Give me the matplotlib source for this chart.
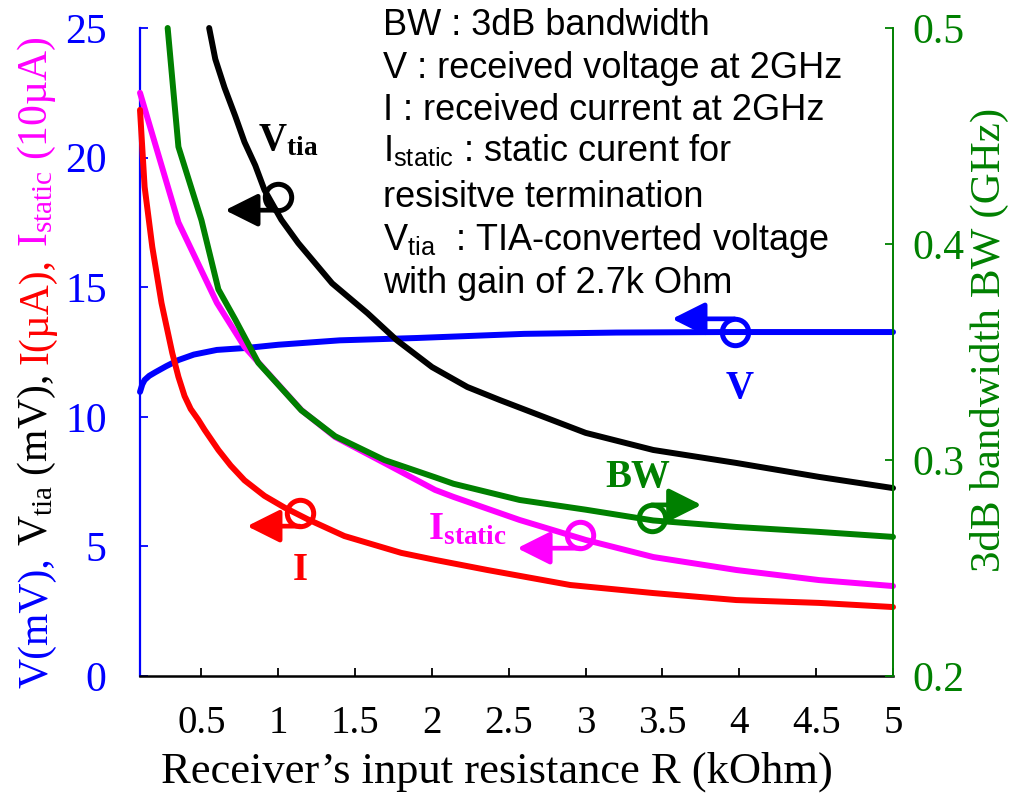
import matplotlib
matplotlib.use("Agg")
import matplotlib.pyplot as plt
from matplotlib.transforms import ScaledTranslation

plt.rcParams["font.family"] = ["Liberation Serif", "DejaVu Serif"]
plt.rcParams["mathtext.fontset"] = "custom"
plt.rcParams["mathtext.rm"] = "Liberation Serif"
plt.rcParams["mathtext.it"] = "Liberation Serif:italic"
plt.rcParams["mathtext.bf"] = "Liberation Serif:bold"
plt.rcParams["mathtext.sf"] = "Liberation Sans"

BLUE = "#0000FF"
RED = "#FF0000"
MAGENTA = "#FF00FF"
GREEN = "#008000"
BLACK = "#000000"

# ---- data: receiver input resistance R (kOhm) ----
r_v = [0.10, 0.115, 0.13, 0.16, 0.20, 0.27, 0.35, 0.45, 0.60, 0.80, 1.00, 1.40, 1.90, 2.60,
       3.20, 3.90, 4.50, 5.00]
v_mv = [10.96, 11.25, 11.42, 11.58, 11.72, 11.95, 12.19, 12.40, 12.58, 12.66, 12.78, 12.95,
        13.04, 13.20, 13.25, 13.27, 13.27, 13.27]

r_tia = [0.55, 0.59, 0.65, 0.72, 0.78, 0.85, 0.91, 1.02, 1.13, 1.35, 1.58, 1.77, 2.00, 2.23,
         2.44, 2.66, 3.00, 3.44, 3.98, 4.52, 5.00]
vtia_mv = [25.0, 23.8, 22.7, 21.6, 20.6, 19.7, 18.75, 17.6, 16.7, 15.15, 14.0, 12.96, 11.92,
           11.15, 10.65, 10.15, 9.38, 8.72, 8.22, 7.68, 7.25]

r_static = [0.10, 0.35, 0.60, 0.78, 0.87, 1.15, 1.37, 1.69, 2.02, 2.14, 2.57, 3.00, 3.44,
            3.98, 4.52, 5.00]
istatic_10ua = [22.5, 17.5, 14.4, 12.7, 12.1, 10.26, 9.22, 8.22, 7.18, 6.91, 6.02, 5.25,
                4.59, 4.09, 3.70, 3.47]

r_i = [0.10, 0.13, 0.18, 0.24, 0.31, 0.35, 0.39, 0.43, 0.48, 0.52, 0.61, 0.69, 0.78, 0.91,
       1.04, 1.19, 1.43, 1.80, 2.02, 2.36, 2.90, 3.44, 3.98, 4.52, 5.00]
i_ua = [21.84, 18.87, 16.55, 14.39, 12.46, 11.54, 10.80, 10.30, 9.88, 9.50, 8.72, 8.12, 7.55,
        6.95, 6.50, 6.05, 5.40, 4.75, 4.48, 4.09, 3.51, 3.20, 2.93, 2.82, 2.66]

r_bw = [0.28, 0.35, 0.50, 0.61, 0.72, 0.87, 1.15, 1.37, 1.69, 2.02, 2.14, 2.57, 3.00, 3.44,
        3.98, 4.52, 5.00]
bw_ghz = [0.500, 0.445, 0.411, 0.379, 0.365, 0.345, 0.323, 0.311, 0.300, 0.292, 0.289,
          0.2815, 0.277, 0.272, 0.269, 0.2667, 0.2644]

x_ticks = [0.5, 1, 1.5, 2, 2.5, 3, 3.5, 4, 4.5, 5]
x_ticklabels = ["0.5", "1", "1.5", "2", "2.5", "3", "3.5", "4", "4.5", "5"]
left_ticks = [0, 5, 10, 15, 20, 25]
right_ticks = [0.2, 0.3, 0.4, 0.5]
right_ticklabels = ["0.2", "0.3", "0.4", "0.5"]

notes = [
    "BW : 3dB bandwidth",
    "V : received voltage at 2GHz",
    "I : received current at 2GHz",
    "I$_{\\mathsf{static}}$ : static curent for",
    "resisitve termination",
    "V$_{\\mathsf{tia}}$  : TIA-converted voltage",
    "with gain of 2.7k Ohm",
]

W, H = 1013, 799
fig = plt.figure(figsize=(W / 100, H / 100), dpi=100)


def fx(px):
    return px / W


def fy(py):
    return 1 - py / H


ax = fig.add_axes([fx(140), fy(676), (893 - 140) / W, (676 - 28) / H])
ax2 = ax.twinx()

LW = 4.3
common = dict(lw=LW, solid_capstyle="round", solid_joinstyle="round", clip_on=False)
ax.plot(r_v, v_mv, color=BLUE, zorder=2, **common)
ax.plot(r_static, istatic_10ua, color=MAGENTA, zorder=3, **common)
ax.plot(r_i, i_ua, color=RED, zorder=4, **common)
ax.plot(r_tia, vtia_mv, color=BLACK, zorder=5, **common)
ax2.plot(r_bw, bw_ghz, color=GREEN, zorder=3, **common)

ax.set_xlim(0.1, 5.0)
ax.set_ylim(0, 25)
ax2.set_ylim(0.2, 0.5)

# spines
for s in ("top", "right"):
    ax.spines[s].set_visible(False)
for s in ("top", "left", "bottom"):
    ax2.spines[s].set_visible(False)
ax.spines["left"].set_color(BLUE)
ax.spines["left"].set_linewidth(1.6)
ax.spines["bottom"].set_color(BLACK)
ax.spines["bottom"].set_linewidth(1.8)
ax2.spines["right"].set_color(GREEN)
ax2.spines["right"].set_linewidth(1.4)

ax.set_xticks(x_ticks)
ax.set_xticklabels(x_ticklabels)
ax.set_yticks(left_ticks)
ax2.set_yticks(right_ticks)
ax2.set_yticklabels(right_ticklabels)

ax.tick_params(axis="x", direction="in", length=6, width=1.3, color=BLACK,
               labelsize=28, pad=21, labelcolor=BLACK)
ax.tick_params(axis="y", direction="in", length=6, width=1.3, color=BLUE,
               labelsize=30, pad=24, labelcolor=BLUE)
ax2.tick_params(axis="y", direction="in", length=6, width=1.3, color=GREEN,
                labelsize=30, pad=14, labelcolor=GREEN)

# x axis title
ax.set_xlabel("Receiver\u2019s input resistance R (kOhm)", fontsize=32)
ax.xaxis.set_label_coords((497 - 140) / 753, (676 - 752) / 648)

# right axis title
fig.text(fx(989), fy(340), "3dB bandwidth BW (GHz)", rotation=90, ha="center",
         va="center", color=GREEN, fontsize=31)

# multi-coloured left axis title, assembled from rotated pieces
pieces = [
    ("V(mV),", BLUE),
    ("V$_{\\mathrm{tia}}$ (mV),", BLACK),
    ("I(\u00b5A),", RED),
    ("I$_{\\mathrm{static}}$ (10\u00b5A)", MAGENTA),
]
lab_size = 30
renderer = fig.canvas.get_renderer()
parts = []
for s, c in pieces:
    t = fig.text(fx(47), 0.5, s, rotation=90, rotation_mode="anchor", ha="left",
                 va="baseline", color=c, fontsize=lab_size)
    parts.append(t)
lengths = [t.get_window_extent(renderer).height for t in parts]
gap = 0.27 * lab_size * 100 / 72
total = sum(lengths) + gap * (len(parts) - 1)
center_disp = H - 362
y0 = center_disp - total / 2
for t, L in zip(parts, lengths):
    t.set_y(y0 / H)
    y0 += L + gap

# annotation text block
baselines = [35, 78, 120, 162, 207, 250, 293]
for line, yb in zip(notes, baselines):
    fig.text(fx(383), fy(yb), line, ha="left", va="baseline", fontsize=26,
             family=["Liberation Sans", "DejaVu Sans"], color=BLACK)


def ring_arrow(axis, x, y, color, side, tip_dx):
    """Open ring on a curve with a tangent arrow pointing to its axis."""
    ms = 19.0
    axis.plot([x], [y], marker="o", ms=ms, mfc="none", mec=color, mew=3.6,
              zorder=8, clip_on=False)
    dy = ms / 2 if side == "top" else -ms / 2
    tr_tip = axis.transData + ScaledTranslation(tip_dx / 72, dy / 72, fig.dpi_scale_trans)
    tr_tail = axis.transData + ScaledTranslation(0, dy / 72, fig.dpi_scale_trans)
    axis.annotate("", xy=(x, y), xycoords=tr_tip, xytext=(x, y), textcoords=tr_tail,
                  arrowprops=dict(arrowstyle="-|>,head_length=20,head_width=10",
                                  mutation_scale=1, lw=3.4, color=color,
                                  shrinkA=0, shrinkB=0, capstyle="round"),
                  zorder=8, annotation_clip=False)


ring_arrow(ax, 0.997, 18.48, BLACK, "bottom", -38)
ring_arrow(ax, 3.969, 13.27, BLUE, "top", -45)
ring_arrow(ax2, 3.429, 0.2731, GREEN, "top", 36)
ring_arrow(ax, 2.961, 5.44, MAGENTA, "bottom", -45)
ring_arrow(ax, 1.140, 6.29, RED, "bottom", -38)

bold = dict(fontsize=28, fontweight="bold")
ax.text(0.867, 20.29, "V$_{\\mathbf{tia}}$", color=BLACK, ha="left", va="baseline", **bold)
ax.text(4.001, 10.73, "V", color=BLUE, ha="center", va="baseline", **bold)
ax.text(3.338, 7.29, "BW", color=GREEN, ha="center", va="baseline", **bold)
ax.text(1.973, 5.29, "I$_{\\mathbf{static}}$", color=MAGENTA, ha="left", va="baseline", **bold)
ax.text(1.140, 3.70, "I", color=RED, ha="center", va="baseline", **bold)

fig.savefig("out.png", dpi=100)
